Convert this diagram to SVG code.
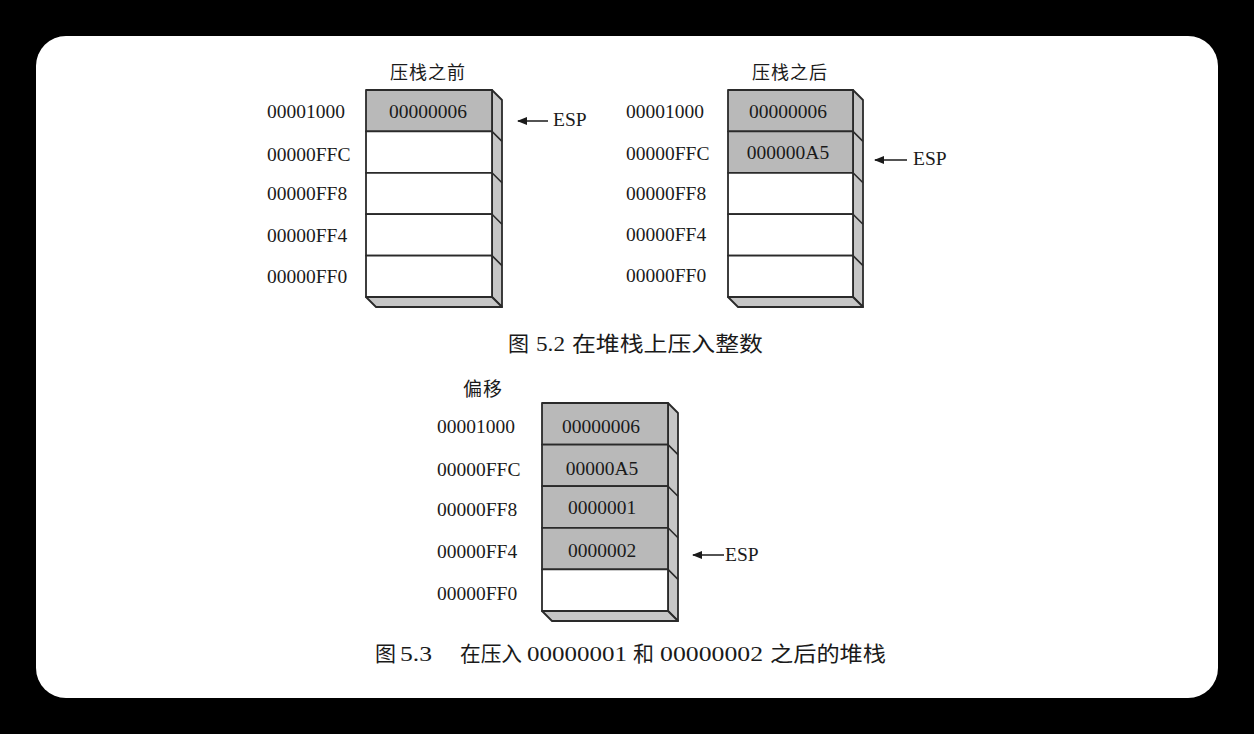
<svg xmlns="http://www.w3.org/2000/svg" width="1254" height="734" viewBox="0 0 1254 734">
  <style>
    .bg { fill: #000000; }
    .paper { fill: #ffffff; }
    .cell { stroke: #2a2a2a; stroke-width: 1.8; stroke-linejoin: round; }
    .full { fill: #b9b9b9; }
    .empty { fill: #ffffff; }
    .side { fill: #c6c6c6; stroke: #2a2a2a; stroke-width: 1.8; stroke-linejoin: round; }
    .edge { stroke: #2a2a2a; stroke-width: 1.6; fill: none; }
    .lat { font-family: "Liberation Serif", "Noto Sans CJK SC", serif; font-size: 19.5px; fill: #1a1a1a; }
    .val { font-family: "Liberation Serif", "Noto Sans CJK SC", serif; font-size: 19.5px; fill: #1a1a1a; text-anchor: middle; }
    .cjk { font-family: "Liberation Serif", "Noto Sans CJK SC", serif; font-size: 18px; fill: #1a1a1a; }
    .cap { font-family: "Liberation Serif", "Noto Sans CJK SC", serif; font-size: 21px; fill: #1a1a1a; }
    .num { font-family: "Liberation Serif", serif; font-size: 22px; fill: #1a1a1a; }
    .arrow { stroke: #1a1a1a; stroke-width: 1.5; fill: none; }
  </style>
  <defs>
    <marker id="ah" viewBox="0 0 10 8" refX="9" refY="4" markerWidth="10" markerHeight="8" markerUnits="userSpaceOnUse" orient="auto">
      <path d="M0,0 L10,4 L0,8 Z" fill="#1a1a1a"/>
    </marker>
  </defs>

  <rect class="bg" x="0" y="0" width="1254" height="734"/>
  <rect class="paper" x="36" y="36" width="1182" height="662" rx="30" ry="30"/>

  <!-- Stack 1: before push -->
  <g id="stack-before">
    <text class="cjk" x="390" y="79" textLength="75">压栈之前</text>
    <polygon class="side" points="492,90 502,100 502,307 492,297"/>
    <polygon class="side" points="366,297 492,297 502,307 376,307"/>
    <rect class="cell full" x="366" y="90" width="126" height="41.4"/>
    <rect class="cell empty" x="366" y="131.4" width="126" height="41.4"/>
    <rect class="cell empty" x="366" y="172.8" width="126" height="41.4"/>
    <rect class="cell empty" x="366" y="214.2" width="126" height="41.4"/>
    <rect class="cell empty" x="366" y="255.6" width="126" height="41.4"/>
    <path class="edge" d="M492,131.4 L502,141.4 M492,172.8 L502,182.8 M492,214.2 L502,224.2 M492,255.6 L502,265.6"/>
    <text class="val" x="428" y="118">00000006</text>
    <text class="lat" x="267" y="118">00001000</text>
    <text class="lat" x="267" y="161">00000FFC</text>
    <text class="lat" x="267" y="200">00000FF8</text>
    <text class="lat" x="267" y="242">00000FF4</text>
    <text class="lat" x="267" y="283">00000FF0</text>
    <text class="lat" x="553" y="126">ESP</text>
  </g>

  <!-- Stack 2: after push -->
  <g id="stack-after">
    <text class="cjk" x="752" y="79" textLength="75">压栈之后</text>
    <polygon class="side" points="853,90 863,100 863,307 853,297"/>
    <polygon class="side" points="728,297 853,297 863,307 738,307"/>
    <rect class="cell full" x="728" y="90" width="125" height="41.4"/>
    <rect class="cell full" x="728" y="131.4" width="125" height="41.4"/>
    <rect class="cell empty" x="728" y="172.8" width="125" height="41.4"/>
    <rect class="cell empty" x="728" y="214.2" width="125" height="41.4"/>
    <rect class="cell empty" x="728" y="255.6" width="125" height="41.4"/>
    <path class="edge" d="M853,131.4 L863,141.4 M853,172.8 L863,182.8 M853,214.2 L863,224.2 M853,255.6 L863,265.6"/>
    <text class="val" x="788" y="118">00000006</text>
    <text class="val" x="788" y="159">000000A5</text>
    <text class="lat" x="626" y="118">00001000</text>
    <text class="lat" x="626" y="160">00000FFC</text>
    <text class="lat" x="626" y="200">00000FF8</text>
    <text class="lat" x="626" y="241">00000FF4</text>
    <text class="lat" x="626" y="282">00000FF0</text>
    <text class="lat" x="913" y="165">ESP</text>
  </g>

  <!-- Stack 3: after pushing 1 and 2 -->
  <g id="stack-two-pushes">
    <text class="cjk" x="463" y="396" style="font-size:19px" textLength="39">偏移</text>
    <polygon class="side" points="668,403 678,413 678,621 668,611"/>
    <polygon class="side" points="542,611 668,611 678,621 552,621"/>
    <rect class="cell full" x="542" y="403" width="126" height="41.6"/>
    <rect class="cell full" x="542" y="444.6" width="126" height="41.6"/>
    <rect class="cell full" x="542" y="486.2" width="126" height="41.6"/>
    <rect class="cell full" x="542" y="527.8" width="126" height="41.6"/>
    <rect class="cell empty" x="542" y="569.4" width="126" height="41.6"/>
    <path class="edge" d="M668,444.6 L678,454.6 M668,486.2 L678,496.2 M668,527.8 L678,537.8 M668,569.4 L678,579.4"/>
    <text class="val" x="601" y="433">00000006</text>
    <text class="val" x="602" y="475">00000A5</text>
    <text class="val" x="602" y="514">0000001</text>
    <text class="val" x="602" y="557">0000002</text>
    <text class="lat" x="437" y="433">00001000</text>
    <text class="lat" x="437" y="476">00000FFC</text>
    <text class="lat" x="437" y="516">00000FF8</text>
    <text class="lat" x="437" y="558">00000FF4</text>
    <text class="lat" x="437" y="600">00000FF0</text>
    <text class="lat" x="725" y="561">ESP</text>
  </g>

  <!-- ESP pointers -->
  <g id="connectors">
    <line class="arrow" x1="548" y1="121" x2="518" y2="121" marker-end="url(#ah)"/>
    <line class="arrow" x1="907" y1="160" x2="875" y2="160" marker-end="url(#ah)"/>
    <line class="arrow" x1="724" y1="555" x2="693" y2="555" marker-end="url(#ah)"/>
  </g>

  <!-- Captions -->
  <g id="caption-5-2">
    <text class="cap" x="508" y="351">图</text>
    <text class="num" x="536" y="351" textLength="29" lengthAdjust="spacingAndGlyphs">5.2</text>
    <text class="cap" x="572" y="351" textLength="191" lengthAdjust="spacingAndGlyphs">在堆栈上压入整数</text>
  </g>
  <g id="caption-5-3">
    <text class="cap" x="375" y="661">图</text>
    <text class="num" x="400" y="661" textLength="32" lengthAdjust="spacingAndGlyphs">5.3</text>
    <text class="cap" x="460" y="661" textLength="62" lengthAdjust="spacingAndGlyphs">在压入</text>
    <text class="num" x="527" y="661" textLength="100" lengthAdjust="spacingAndGlyphs">00000001</text>
    <text class="cap" x="633" y="661">和</text>
    <text class="num" x="660" y="661" textLength="103" lengthAdjust="spacingAndGlyphs">00000002</text>
    <text class="cap" x="770" y="661" textLength="116" lengthAdjust="spacingAndGlyphs">之后的堆栈</text>
  </g>
</svg>
